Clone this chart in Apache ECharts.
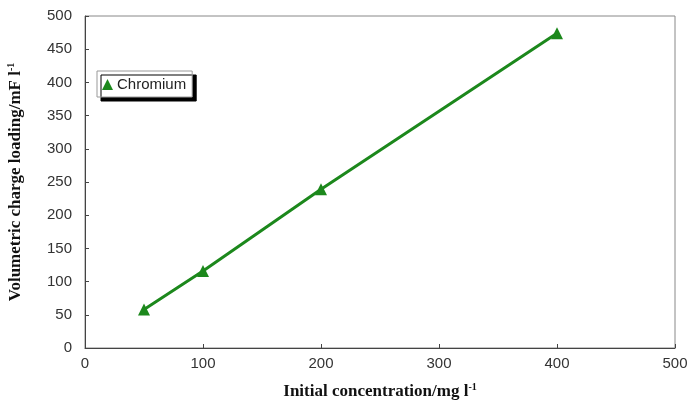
<!DOCTYPE html>
<html><head><meta charset="utf-8">
<script src="https://cdn.jsdelivr.net/npm/echarts@6/dist/echarts.min.js"></script>
<style>html,body{margin:0;padding:0;background:#fff}#c{width:689px;height:402px}</style>
</head><body><div id="c"></div>
<script>
const concentrations = [50, 100, 200, 400];
const chromium = [58, 116, 239, 474];
const xTicks = [0, 100, 200, 300, 400, 500];
const yTicks = [0, 50, 100, 150, 200, 250, 300, 350, 400, 450, 500];
const seriesName = 'Chromium';
const green = '#1c881c';

const chart = echarts.init(document.getElementById('c'));
chart.setOption({
  animation: false,
  backgroundColor: '#fff',
  grid: { left: 85, right: 14, top: 16, bottom: 54, outerBoundsMode: 'none', show: true, borderColor: '#888', borderWidth: 1 },
  legend: {
    left: 97, top: 71, itemWidth: 11, itemHeight: 11, itemGap: 4,
    padding: [6, 6, 5, 5],
    backgroundColor: '#fff', borderColor: '#999', borderWidth: 1,
    shadowColor: '#000', shadowOffsetX: 4, shadowOffsetY: 4, shadowBlur: 0,
    textStyle: { fontFamily: 'Liberation Sans, Arial', fontSize: 15, color: '#222', padding: [0,0,0,-1] },
    data: [{ name: seriesName, icon: 'triangle' }]
  },
  xAxis: {
    type: 'value', min: 0, max: 500, interval: 100,
    axisLine: { show: true, lineStyle: { color: '#444' } },
    axisTick: { show: true, inside: true, length: 4, lineStyle: { color: '#444' } },
    splitLine: { show: false },
    axisLabel: { fontFamily: 'Liberation Sans, Arial', fontSize: 15, color: '#333', margin: 8,
      formatter: v => xTicks.includes(v) ? String(v) : '' },
    name: '{b|Initial concentration/mg l}{s|-1}',
    nameLocation: 'middle', nameGap: 34,
    nameTextStyle: { rich: {
      b: { fontFamily: 'Liberation Serif, Times New Roman', fontWeight: 'bold', fontSize: 17, color: '#111' },
      s: { fontFamily: 'Liberation Serif, Times New Roman', fontWeight: 'bold', fontSize: 10, color: '#111', verticalAlign: 'top', padding: [0,0,9,0] }
    } }
  },
  yAxis: {
    type: 'value', min: 0, max: 500, interval: 50,
    axisLine: { show: true, lineStyle: { color: '#444' } },
    axisTick: { show: true, inside: true, length: 4, lineStyle: { color: '#444' } },
    splitLine: { show: false },
    axisLabel: { fontFamily: 'Liberation Sans, Arial', fontSize: 15, color: '#333', margin: 13,
      formatter: v => yTicks.includes(v) ? String(v) : '' },
    name: '{b|Volumetric charge loading/mF l}{s|-1}',
    nameLocation: 'middle', nameGap: 60, nameRotate: 90,
    nameTextStyle: { rich: {
      b: { fontFamily: 'Liberation Serif, Times New Roman', fontWeight: 'bold', fontSize: 17, color: '#111' },
      s: { fontFamily: 'Liberation Serif, Times New Roman', fontWeight: 'bold', fontSize: 10, color: '#111', verticalAlign: 'top', padding: [0,0,9,0] }
    } }
  },
  series: [{
    name: seriesName, type: 'line',
    data: concentrations.map((x, i) => [x, chromium[i]]),
    symbol: 'triangle', symbolSize: 12,
    lineStyle: { color: green, width: 3 },
    itemStyle: { color: green }
  }]
});
</script></body></html>
